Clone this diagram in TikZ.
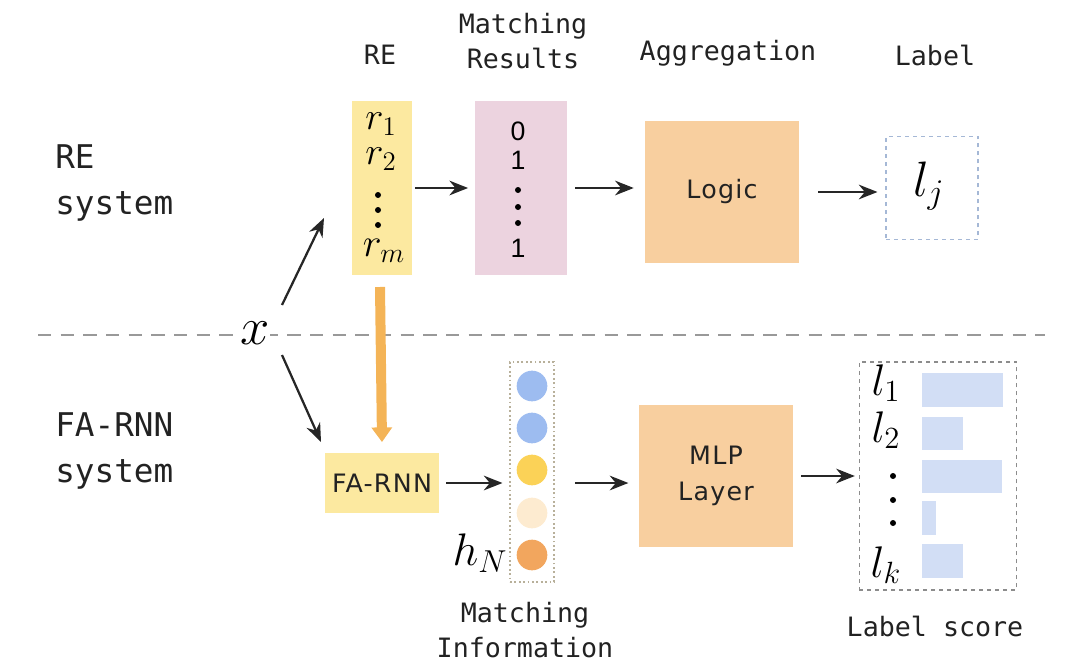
\documentclass[tikz,border=0pt]{standalone}
\usepackage{fontspec}
\setmainfont{DejaVu Sans}
\newfontfamily\monof{DejaVu Sans Mono}
\newfontfamily\boxf[LetterSpace=5]{DejaVu Sans}
\newfontfamily\arialf{Liberation Sans}
\usetikzlibrary{arrows.meta}
\definecolor{reyel}{HTML}{FCE9A0}
\definecolor{pinkb}{HTML}{ECD3DF}
\definecolor{peach}{HTML}{F8CF9F}
\definecolor{orarr}{HTML}{F4B457}
\definecolor{blued}{HTML}{A5B8D6}
\definecolor{barc}{HTML}{D2DEF5}
\definecolor{cblue}{HTML}{9DBCF0}
\definecolor{cyel}{HTML}{FBD257}
\definecolor{cpale}{HTML}{FDEBD0}
\definecolor{corange}{HTML}{F2A65E}
\definecolor{txt}{HTML}{222222}
\definecolor{midot}{HTML}{B8B09A}
\tikzset{
  hdr/.style={font=\monof\fontsize{20}{26}\selectfont, text=txt, align=center, inner sep=0pt},
  side/.style={font=\monof\fontsize{24.5}{34}\selectfont, text=txt, align=left, anchor=west, inner sep=0pt},
  blk/.style={fill=#1, draw=none, inner sep=0pt},
  btxt/.style={font=\boxf\fontsize{19}{27}\selectfont, text=txt, align=center, inner sep=0pt},
  arr/.style={-{Stealth[length=14pt,width=11pt]}, line width=1.7pt, draw=black!85, fill=black!85},
  dot/.style={circle, fill=black, inner sep=0pt, minimum size=4.5pt},
  circ/.style={circle, fill=#1, inner sep=0pt, minimum size=23pt, draw=none},
  bar/.style={fill=barc, draw=none},
  mth/.style={font=\fontsize{20}{20}\selectfont, inner sep=0pt, scale=#1/20},
}
\begin{document}
\begin{tikzpicture}[x=0.75pt,y=-0.75pt]
\useasboundingbox (0,0) rectangle (1080,663);
% headers
\node[hdr] (hRE) at (380,55) {RE};
\node[hdr] (hMR) at (523,41) {Matching\\Results};
\node[hdr] (hAg) at (728,53) {Aggregation};
\node[hdr] (hLb) at (935,55) {Label};
\node[side] (sRE) at (55,183) {RE\\system};
\node[side] (sFA) at (55,451) {FA-RNN\\system};
% separator
\coordinate (dl) at (38,335);
\coordinate (dr) at (1045,335);
\draw[gray!80, line width=1.6pt, dash pattern=on 10pt off 7pt] (dl) -- (dr);
\node[fill=white, mth=38] (x) at (255,333) {$x$};
% RE box
\node[blk=reyel, minimum width=45pt, minimum height=131pt] (re) at (382,188) {};
\node[mth=28] (r1) at (381,124) {$r_1$};
\node[mth=28] (r2) at (381,159) {$r_2$};
\node[dot] (rd1) at (378,195) {};
\node[dot] (rd2) at (378,210) {};
\node[dot] (rd3) at (378,225) {};
\node[mth=29] (rm) at (384,251) {$r_m$};
% matching results
\node[blk=pinkb, minimum width=69pt, minimum height=131pt] (mr) at (521,188) {};
\node[font=\arialf\fontsize{20}{20}\selectfont, inner sep=0pt] (m0) at (518,131) {0};
\node[font=\arialf\fontsize{20}{20}\selectfont, inner sep=0pt] (m1) at (518,160) {1};
\node[dot] (md1) at (518,190) {};
\node[dot] (md2) at (518,207) {};
\node[dot] (md3) at (518,223) {};
\node[font=\arialf\fontsize{20}{20}\selectfont, inner sep=0pt] (m2) at (518,248) {1};
% logic
\node[blk=peach, minimum width=116pt, minimum height=106pt, btxt] (logic) at (722,192) {Logic};
% label
\node[draw=blued, dashed, line width=0.8pt, minimum width=69pt, minimum height=77pt, inner sep=0pt] (lab) at (932,188) {};
\node[mth=36] (lj) at (929,186) {$l_j$};
% arrows top
\draw[arr] ([xshift=2pt]re.east) -- ([xshift=-5pt]mr.west |- re.east);
\draw[arr] ([xshift=6pt]mr.east) -- ([xshift=-8pt]logic.west |- mr.east);
\draw[arr] ([xshift=14pt]logic.east) -- ([xshift=-6pt]lab.west |- logic.east);
% x arrows
\coordinate (xu) at (282,305);
\coordinate (xd) at (282,355);
\coordinate (xue) at (324,218);
\coordinate (xde) at (321,442);
\draw[arr] (xu) -- (xue);
\draw[arr] (xd) -- (xde);
% FA-RNN
\node[blk=reyel, minimum width=86pt, minimum height=45pt, btxt] (fa) at (382,483) {FA-RNN};
\coordinate (ostart) at (380,287);
\draw[-{Triangle[length=11pt,width=15pt]}, draw=orarr, fill=orarr, line width=7.5pt] (ostart) -- ([yshift=8pt]fa.north);
% matching information
\node[draw=midot, dotted, line width=1.3pt, minimum width=33pt, minimum height=165pt, inner sep=0pt] (mi) at (532,472) {};
\node[circ=cblue] (c1) at (532,386) {};
\node[circ=cblue] (c2) at (532,428) {};
\node[circ=cyel] (c3) at (532,470) {};
\node[circ=cpale] (c4) at (532,513) {};
\node[circ=corange] (c5) at (532,555) {};
\node[mth=33, anchor=east] (hN) at (508,553) {$h_N$};
\node[hdr] (hMI) at (525,630) {Matching\\Information};
\draw[arr] ([xshift=5pt]fa.east) -- ([xshift=-5pt]mi.west |- fa.east);
% MLP
\node[blk=peach, minimum width=115pt, minimum height=106pt, btxt] (mlp) at (716,476) {MLP\\Layer};
\draw[arr] ([xshift=15pt]mi.east |- fa.east) -- ([xshift=-8pt]mlp.west |- fa.east);
% label score
\node[draw=black!45, dashed, line width=0.8pt, minimum width=118pt, minimum height=171pt, inner sep=0pt] (ls) at (938,476) {};
\draw[arr] ([xshift=6pt]mlp.east) -- ([xshift=-3pt]ls.west |- mlp.east);
\fill[bar] (922,373) rectangle (1003,407);
\fill[bar] (922,417) rectangle (963,450);
\fill[bar] (922,460) rectangle (1002,493);
\fill[bar] (922,501) rectangle (936,535);
\fill[bar] (922,544) rectangle (963,578);
\node[mth=32] (l1) at (886,383) {$l_1$};
\node[mth=32] (l2) at (886,430) {$l_2$};
\node[dot] (ld1) at (893,476) {};
\node[dot] (ld2) at (893,500) {};
\node[dot] (ld3) at (893,523) {};
\node[mth=32] (lk) at (886,565) {$l_k$};
\node[hdr] (hLS) at (935,626) {Label score};
\end{tikzpicture}
\end{document}
